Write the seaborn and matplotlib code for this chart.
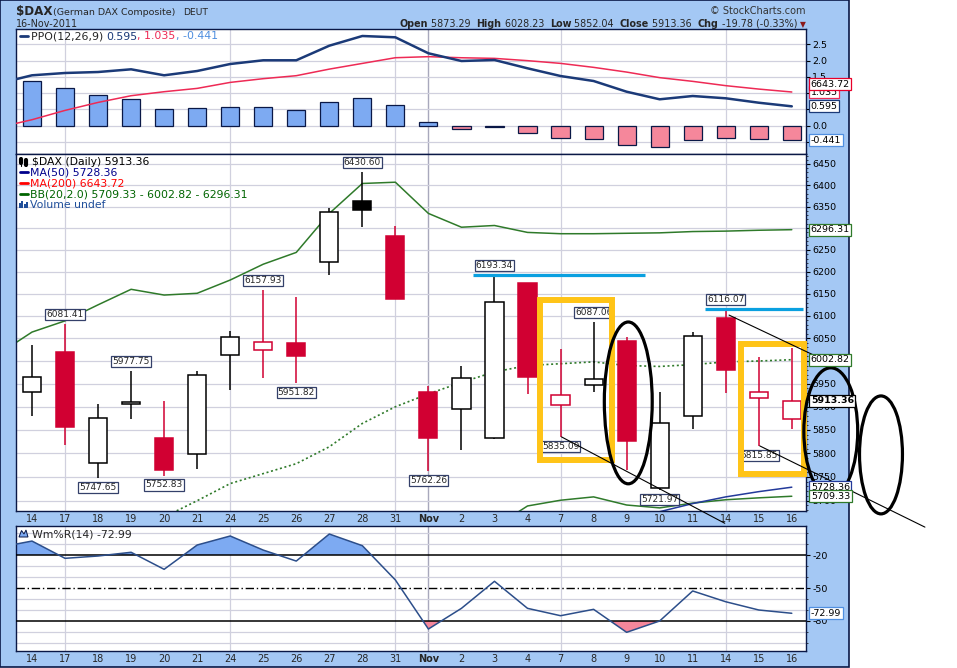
import matplotlib
matplotlib.use("Agg")
import matplotlib.pyplot as plt
from matplotlib.lines import Line2D
from matplotlib.patches import Ellipse, Rectangle, Polygon
from matplotlib.ticker import FixedLocator, FuncFormatter, NullFormatter
import numpy as np
import seaborn as sns

nan = np.nan

# trading days on the x axis (Oct 14 - Nov 16, 2011)
day_labels = ["14", "17", "18", "19", "20", "21", "24", "25", "26", "27", "28", "31",
              "Nov", "2", "3", "4", "7", "8", "9", "10", "11", "14", "15", "16"]
days = list(range(len(day_labels)))
# indicator lines also carry Oct 13 (x = -1) so they enter from the left edge
line_days = list(range(-1, len(day_labels)))

prior_close = 5862.86  # Oct 13 close, only used to colour the first candle

opens = [5931, 6020, 5780, 5907, 5833, 5799, 6013, 6024, 6040, 6222, 6362, 6281,
         5933, 5895, 5833, 6175, 5904, 5948, 6044, 5727, 5880, 6096, 5919, 5873.29]
highs = [6036, 6081.41, 5907, 5977.75, 5913, 5978, 6066, 6157.93, 6142, 6347, 6430.60, 6305,
         5946, 5990, 6193.34, 6175, 6027, 6087.06, 6054, 5933, 6064, 6116.07, 6009, 6028.23]
lows = [5881, 5817, 5747.65, 5873, 5752.83, 5766, 5936, 5962, 5951.82, 6193, 6303, 6139,
        5762.26, 5808, 5831, 5927, 5835.09, 5931, 5764, 5721.97, 5851, 5930, 5815.85, 5852.04]
closes = [5965, 5856, 5876, 5910, 5764, 5969, 6053, 6043, 6012, 6337, 6343, 6139,
          5832, 5963, 6131, 5964, 5926, 5960, 5826, 5865, 6055, 5981, 5933.14, 5913.36]

# labelled pivots: (day index, which end of the candle)
pivots = [(1, "high"), (2, "low"), (3, "high"), (4, "low"), (7, "high"), (8, "low"),
          (10, "high"), (12, "low"), (14, "high"), (16, "low"), (17, "high"),
          (19, "low"), (21, "high"), (22, "low")]

# overlays on line_days
bb_upper = [6016, 6064, 6089, 6125, 6160, 6147, 6151, 6181, 6217, 6244, 6334, 6404, 6407,
            6334, 6302, 6306, 6290, 6287, 6287, 6288, 6289, 6292, 6293, 6295, 6296.31]
bb_middle = [nan, nan, nan, nan, nan, 5666, 5700, 5736, 5757, 5778, 5814, 5864, 5900,
             5928, 5953, 5976, 5990, 5994, 5998, 5990, 5988, 5992, 5998, 6000, 6002.82]
bb_lower = [nan] * 15 + [5645, 5689, 5701, 5708, 5691, 5685, 5695, 5702, 5706, 5709.33]
ma50 = [nan] * 20 + [5677, 5694, 5708, 5719, 5728.36]

# PPO(12,26,9)
ppo_line = [1.30, 1.548, 1.619, 1.649, 1.732, 1.548, 1.680, 1.895, 2.009, 2.009, 2.457, 2.755,
            2.715, 2.224, 1.987, 2.018, 1.763, 1.526, 1.373, 1.044, 0.811, 0.912, 0.842, 0.706, 0.595]
ppo_signal = [-0.05, 0.184, 0.470, 0.715, 0.921, 1.044, 1.146, 1.330, 1.444, 1.536, 1.738, 1.913,
              2.088, 2.120, 2.087, 2.068, 1.998, 1.914, 1.792, 1.647, 1.476, 1.362, 1.230, 1.125, 1.035]
ppo_hist = [1.364, 1.149, 0.934, 0.811, 0.504, 0.534, 0.565, 0.565, 0.473, 0.719, 0.842, 0.627,
            0.104, -0.100, -0.050, -0.235, -0.388, -0.419, -0.603, -0.665, -0.450, -0.388, -0.419, -0.441]

# Williams %R(14)
williams = [-13, -7.3, -23, -20.9, -17.5, -33, -10.9, -2.7, -15.5, -25.5, -0.9, -11.5, -42.7,
            -87.3, -68.5, -43.9, -68.5, -75.2, -69.4, -90.3, -80, -52.7, -62.5, -70, -72.99]

grid_days = [1, 6, 11, 16, 21]  # Mondays
month_day = 12                   # Nov 1

# hand-drawn markup (day index, price)
support_lines = [(13.36, 18.57, 6193.34), (20.37, 23.33, 6116.07)]
boxes = [(15.38, 17.57, 5786, 6135), (21.47, 23.36, 5756, 6037)]
ovals = [(18.05, 5911, 1.45, 351), (24.18, 5847, 1.63, 276), (25.70, 5798, 1.30, 251)]
trend_lines = [((21.10, 23.75), (6102, 6010)),
               ((16.03, 20.97), (5835.09, 5653)),
               ((22.03, 27.03), (5815.85, 5645))]

# colours
FRAME_BLUE = "#A4C8F4"
NAVY = "#0A1846"
GRID = "#D0D0DE"
MONTH_GRID = "#A8A8BC"
RED = "#D10032"
PPO_BLUE = "#1B3A78"
SIG_RED = "#EE2A55"
HIST_POS = "#7DAAF2"
HIST_NEG = "#F5879B"
BB_GREEN = "#2F7A2A"
MA50_NAVY = "#233A9A"
WR_LINE = "#2C4E8A"
LIGHT_BLUE = "#4F8FE0"
LABEL_EDGE = "#34406A"

sns.set_theme(style="white")
plt.rcParams["font.family"] = ["DejaVu Sans"]
plt.rcParams["axes.edgecolor"] = NAVY
plt.rcParams["axes.linewidth"] = 1.0
plt.rcParams["axes.unicode_minus"] = False

W, H = 957, 668
fig = plt.figure(figsize=(W / 100, H / 100), dpi=100, facecolor="white")


def fx(px):
    return px / W


def fy(py):
    return 1 - py / H


fig.patches.append(Rectangle((0, fy(667)), fx(849), fy(0) - fy(667), transform=fig.transFigure,
                             facecolor=FRAME_BLUE, edgecolor=NAVY, linewidth=1.2, zorder=-5))

L, R = 16, 806
ax_ppo = fig.add_axes([fx(L), fy(154), fx(R) - fx(L), fy(29) - fy(154)])
ax_px = fig.add_axes([fx(L), fy(511), fx(R) - fx(L), fy(154) - fy(511)])
ax_wr = fig.add_axes([fx(L), fy(651), fx(R) - fx(L), fy(526) - fy(651)])

for ax in (ax_ppo, ax_px, ax_wr):
    ax.set_facecolor("white")
    for d in grid_days:
        ax.axvline(d, color=GRID, lw=0.9, zorder=0.5)
    ax.axvline(month_day, color=MONTH_GRID, lw=1.0, zorder=0.5)
    for s in ax.spines.values():
        s.set_color(NAVY)

# ---------------- PPO panel ----------------
hist_cols = [HIST_POS if v >= 0 else HIST_NEG for v in ppo_hist]
ax_ppo.bar(days, ppo_hist, width=0.55, color=hist_cols, edgecolor=NAVY, linewidth=0.9, zorder=2)
sns.lineplot(x=line_days, y=ppo_signal, ax=ax_ppo, color=SIG_RED, linewidth=1.1, zorder=3)
sns.lineplot(x=line_days, y=ppo_line, ax=ax_ppo, color=PPO_BLUE, linewidth=1.8, zorder=4)
ax_ppo.set_ylim(-0.869, 2.970)
ax_ppo.yaxis.set_major_locator(FixedLocator([-0.5, 0, 0.5, 1.0, 1.5, 2.0, 2.5]))
ax_ppo.yaxis.set_major_formatter(FuncFormatter(lambda v, p: f"{v:.1f}"))

# ---------------- price panel ----------------
ax_px.set_yscale("log")
for i in days:
    o, h, l, c = opens[i], highs[i], lows[i], closes[i]
    prev = prior_close if i == 0 else closes[i - 1]
    col = "black" if c >= prev else RED
    ax_px.vlines(i, l, h, color=col, linewidth=1.1, zorder=3)
    ax_px.bar(i, abs(c - o), bottom=min(o, c), width=0.55,
              color=col if c < o else "white", edgecolor=col, linewidth=1.1, zorder=4)

sns.lineplot(x=line_days, y=bb_upper, ax=ax_px, color=BB_GREEN, linewidth=1.1, zorder=2)
sns.lineplot(x=line_days, y=bb_lower, ax=ax_px, color=BB_GREEN, linewidth=1.1, zorder=2)
sns.lineplot(x=line_days, y=bb_middle, ax=ax_px, color=BB_GREEN, linewidth=1.2,
             linestyle=(0, (1.2, 1.6)), zorder=2)
sns.lineplot(x=line_days, y=ma50, ax=ax_px, color=MA50_NAVY, linewidth=1.1, zorder=2)

for i, kind in pivots:
    val = highs[i] if kind == "high" else lows[i]
    ax_px.annotate(f"{val:.2f}", xy=(i, val), xytext=(0, 3.5 if kind == "high" else -3.5),
                   textcoords="offset points", ha="center",
                   va="bottom" if kind == "high" else "top", fontsize=6.5,
                   bbox=dict(boxstyle="square,pad=0.12", fc="white", ec=LABEL_EDGE, lw=0.9),
                   zorder=9)

ax_px.set_ylim(5678.5, 6473.7)
ax_px.yaxis.set_major_locator(FixedLocator(list(range(5700, 6451, 50))))
ax_px.yaxis.set_major_formatter(FuncFormatter(lambda v, p: f"{v:.0f}"))
ax_px.yaxis.set_minor_locator(FixedLocator(list(range(5680, 6471, 10))))
ax_px.yaxis.set_minor_formatter(NullFormatter())

# markup
for x0, x1, y in support_lines:
    ax_px.plot([x0, x1], [y, y], color="#0AA0E0", linewidth=2.3, solid_capstyle="butt",
               zorder=12, clip_on=False)
for x0, x1, y0, y1 in boxes:
    ax_px.add_patch(Rectangle((x0, y0), x1 - x0, y1 - y0, fill=False, edgecolor="#FFC417",
                              linewidth=4.3, zorder=12, clip_on=False))
for cx, cy, w, h in ovals:
    ax_px.add_patch(Ellipse((cx, cy), w, h, fill=False, edgecolor="black", linewidth=2.3,
                            zorder=13, clip_on=False))
for xs, ys in trend_lines:
    ax_px.plot(xs, ys, color="black", linewidth=0.8, zorder=13, clip_on=False)

# ---------------- Williams %R panel ----------------
wr = np.array(williams)
ax_wr.fill_between(line_days, wr, -20, where=wr > -20, interpolate=True, color=HIST_POS,
                   linewidth=0, zorder=2)
ax_wr.fill_between(line_days, wr, -80, where=wr < -80, interpolate=True, color=HIST_NEG,
                   linewidth=0, zorder=2)
sns.lineplot(x=line_days, y=williams, ax=ax_wr, color=WR_LINE, linewidth=1.1, zorder=4)
ax_wr.axhline(-20, color="black", linewidth=1.1, zorder=3)
ax_wr.axhline(-80, color="black", linewidth=1.1, zorder=3)
ax_wr.axhline(-50, color="black", linewidth=1.0, linestyle=(0, (6, 2, 1, 2)), zorder=3)
ax_wr.set_ylim(-107.3, 6.4)
ax_wr.yaxis.set_major_locator(FixedLocator([-20, -50, -80]))
ax_wr.yaxis.set_minor_locator(FixedLocator(list(range(-100, 1, 10))))
ax_wr.yaxis.set_minor_formatter(NullFormatter())

# ---------------- shared axis styling ----------------
for ax in (ax_ppo, ax_px, ax_wr):
    ax.set_xlim(-0.484, 23.43)
    ax.set_xlabel("")
    ax.set_ylabel("")
    ax.yaxis.tick_right()
    ax.tick_params(axis="y", which="major", direction="out", length=3, width=0.8,
                   pad=1.5, labelsize=6.8, colors="black")
    ax.tick_params(axis="y", which="minor", direction="out", length=1.5, width=0.6)
    ax.set_xticks(days)
    ax.set_xticklabels(day_labels)
    ax.tick_params(axis="x", length=0, pad=2.5, labelsize=7)
    ax.get_xticklabels()[month_day].set_fontweight("bold")
    ax.set_axisbelow(True)
    ax.grid(False)

ax_ppo.tick_params(axis="x", labelbottom=False)
ax_ppo.grid(axis="y", which="major", color=GRID, linewidth=0.9)
ax_px.grid(axis="y", which="major", color=GRID, linewidth=0.9)
ax_wr.grid(axis="y", which="minor", color=GRID, linewidth=0.9)


# boxed last values on the right edge
def value_tag(ax, y, text, edge, color="black", bold=False):
    ax.annotate(text, xy=(1, y), xycoords=ax.get_yaxis_transform(), xytext=(3.5, 0),
                textcoords="offset points", ha="left", va="center", fontsize=6.8,
                fontweight="bold" if bold else "normal", color=color,
                bbox=dict(boxstyle="square,pad=0.15", fc="white", ec=edge, lw=0.9),
                annotation_clip=False, zorder=20)


value_tag(ax_px, bb_upper[-1], "6296.31", BB_GREEN)
value_tag(ax_px, bb_middle[-1], "6002.82", BB_GREEN)
value_tag(ax_px, closes[-1], "5913.36", "black", bold=True)
value_tag(ax_px, ma50[-1], "5728.36", MA50_NAVY)
value_tag(ax_px, bb_lower[-1], "5709.33", BB_GREEN)
value_tag(ax_ppo, ppo_signal[-1], "1.035", SIG_RED)
value_tag(ax_ppo, 1.28, "6643.72", "#E8002A")
value_tag(ax_ppo, ppo_line[-1], "0.595", PPO_BLUE)
value_tag(ax_ppo, ppo_hist[-1], "-0.441", LIGHT_BLUE)
value_tag(ax_wr, williams[-1], "-72.99", LIGHT_BLUE)

# ---------------- header ----------------
fig.text(fx(16), fy(14.7), "$DAX", fontsize=8.6, fontweight="bold", va="baseline")
fig.text(fx(53), fy(14.7), "(German DAX Composite)", fontsize=6.8, va="baseline")
fig.text(fx(183), fy(14.7), "DEUT", fontsize=6.6, va="baseline")
fig.text(fx(16), fy(26.7), "16-Nov-2011", fontsize=6.9, va="baseline")
fig.text(fx(806), fy(14.2), "\u00a9 StockCharts.com", fontsize=7, color="#333333",
         ha="right", va="baseline")

header = [("Open", "bold"), (" 5873.29  ", "normal"), ("High", "bold"), (" 6028.23  ", "normal"),
          ("Low", "bold"), (" 5852.04  ", "normal"), ("Close", "bold"), (" 5913.36  ", "normal"),
          ("Chg", "bold"), (" -19.78 (-0.33%) ", "normal")]
prev = fig.text(fx(806), fy(26.7), "\u25bc", fontsize=5.5, color="#8B1A1A", ha="right",
                va="baseline")
for txt, wt in reversed(header):
    prev = ax_ppo.annotate(txt, xy=(0, 0), xycoords=prev, ha="right", va="bottom",
                           fontsize=6.9, fontweight=wt, annotation_clip=False)


# ---------------- in-panel legends ----------------
def legend_dash(y, color):
    fig.add_artist(Line2D([fx(20), fx(28)], [fy(y - 3.5), fy(y - 3.5)], color=color,
                          linewidth=2, transform=fig.transFigure))


legend_dash(39.5, PPO_BLUE)
prev = fig.text(fx(30.5), fy(39.5), "PPO(12,26,9) ", fontsize=7.9, va="baseline")
for txt, col in [("0.595", PPO_BLUE), (", 1.035", SIG_RED), (", -0.441", LIGHT_BLUE)]:
    prev = ax_ppo.annotate(txt, xy=(1, 0), xycoords=prev, ha="left", va="bottom",
                           fontsize=7.9, color=col, annotation_clip=False)

price_legend = [("$DAX (Daily) 5913.36", "black", None),
                ("MA(50) 5728.36", "#00008B", "#00008B"),
                ("MA(200) 6643.72", "#FF0000", "#FF0000"),
                ("BB(20,2.0) 5709.33 - 6002.82 - 6296.31", "#006400", "#006400"),
                ("Volume undef", "#1F4E9A", None)]
for k, (txt, col, dash) in enumerate(price_legend):
    yb = 165 + 10.8 * k
    if dash:
        legend_dash(yb, dash)
    fig.text(fx(31.5 if k == 0 else 29.7), fy(yb), txt, fontsize=7.8, color=col, va="baseline")

# small legend icons: candles, volume bars, filled oscillator
for xc, top, bot, b0, b1 in [(21, 157, 166, 159, 163), (26, 158, 166, 160, 165)]:
    fig.add_artist(Line2D([fx(xc), fx(xc)], [fy(bot), fy(top)], color="black", linewidth=0.8,
                          transform=fig.transFigure))
    fig.add_artist(Line2D([fx(xc), fx(xc)], [fy(b1), fy(b0)], color="black", linewidth=3,
                          transform=fig.transFigure))
for xb, hb in [(19.5, 5), (22, 7), (24.5, 4), (27, 6)]:
    fig.patches.append(Rectangle((fx(xb - 1), fy(208)), fx(2), fy(208 - hb) - fy(208),
                                 transform=fig.transFigure, facecolor="#1F4E9A", edgecolor="none"))
fig.patches.append(Polygon([(fx(19), fy(537)), (fx(21.5), fy(530.5)), (fx(24), fy(534)),
                            (fx(26), fy(530)), (fx(28), fy(537))], closed=True,
                           transform=fig.transFigure, facecolor=HIST_POS, edgecolor=NAVY,
                           linewidth=0.7))
fig.text(fx(32), fy(537.3), "Wm%R(14) -72.99", fontsize=7.8, va="baseline")

fig.savefig("out.png", dpi=100)
